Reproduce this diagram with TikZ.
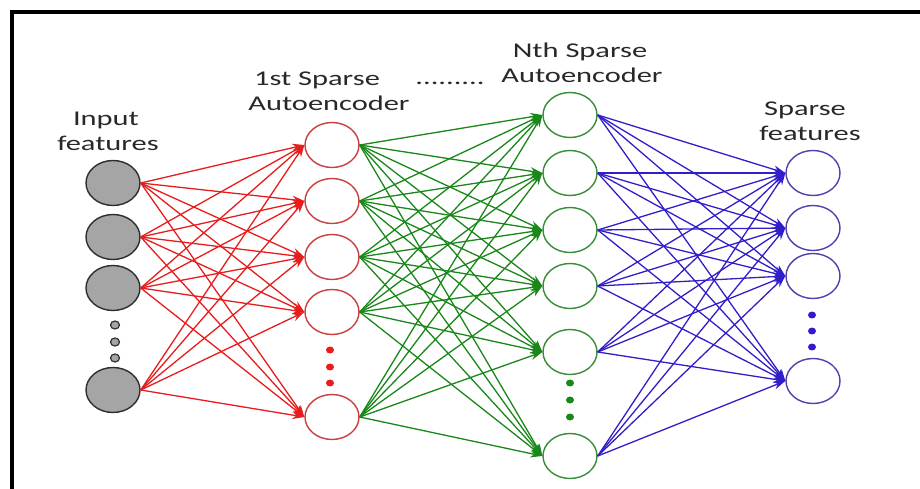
\documentclass[tikz,border=0pt]{standalone}
\usepackage{fontspec}
\newfontfamily\lblfont{Carlito}[FakeStretch=1.45]
\usetikzlibrary{arrows.meta,shapes.geometric}

\definecolor{txt}{RGB}{40,40,40}
\definecolor{inFill}{RGB}{165,165,165}
\definecolor{inLine}{RGB}{45,45,45}
\definecolor{redA}{RGB}{232,28,28}
\definecolor{redC}{RGB}{205,60,60}
\definecolor{grnA}{RGB}{25,135,25}
\definecolor{grnC}{RGB}{55,140,55}
\definecolor{bluA}{RGB}{50,30,200}
\definecolor{bluC}{RGB}{75,65,175}

\tikzset{
  unit/.style={ellipse, minimum width=54pt, minimum height=45pt, inner sep=0pt, line width=1.4pt},
  inode/.style={unit, draw=inLine, fill=inFill},
  rnode/.style={unit, draw=redC, fill=white},
  gnode/.style={unit, draw=grnC, fill=white},
  bnode/.style={unit, draw=bluC, fill=white},
  dotnode/.style={ellipse, minimum width=8pt, minimum height=7pt, inner sep=0pt},
  link/.style={line width=1.3pt, -{Stealth[length=12pt,width=8pt]}},
  lbl/.style={font=\lblfont\fontsize{21}{24}\selectfont, text=txt, inner sep=0pt},
  frame/.style={line width=4pt, black}
}

\begin{document}
\begin{tikzpicture}[x=1pt, y=-1pt]
\useasboundingbox (0,0) rectangle (920,489);
\clip (0,0) rectangle (920,489);

% outer frame (top and left edges)
\draw[frame] (12,500) -- (12,12) -- (930,12);

% layers
\foreach \n/\y in {1/183,2/237,3/288,4/390}
  \node[inode] (in\n) at (113,\y) {};
\foreach \n/\y in {1/145,2/201,3/257,4/312,5/417}
  \node[rnode] (ae\n) at (332,\y) {};
\foreach \n/\y in {1/115,2/173,3/230,4/286,5/352,6/456}
  \node[gnode] (nt\n) at (570,\y) {};
\foreach \n/\y in {1/173,2/228,3/276,4/381}
  \node[bnode] (sp\n) at (813,\y) {};

% ellipsis dots inside the layers
\foreach \n/\y in {1/325,2/342,3/358}
  \node[dotnode, minimum width=9pt, minimum height=8pt, draw=inLine, fill=inFill, line width=1.2pt] (ind\n) at (115,\y) {};
\foreach \n/\y in {1/350,2/367,3/383}
  \node[dotnode, fill=redA] (aed\n) at (330,\y) {};
\foreach \n/\y in {1/383,2/400,3/417}
  \node[dotnode, fill=grnA] (ntd\n) at (570,\y) {};
\foreach \n/\y in {1/315,2/331,3/347}
  \node[dotnode, fill=bluA] (spd\n) at (812,\y) {};

% fully connected links
\foreach \i in {1,...,4}
  \foreach \j in {1,...,5}
    \draw[link, redA] (in\i.east) -- (ae\j.west);
\foreach \i in {1,...,5}
  \foreach \j in {1,...,6}
    \draw[link, grnA] (ae\i.east) -- (nt\j.west);
\foreach \i in {1,...,6}
  \foreach \j in {1,...,4}
    \draw[link, bluA] (nt\i.east) -- (sp\j.west);

% labels
\node[lbl] (lin1) at (106,120) {Input};
\node[lbl] (lin2) at (108,143) {features};
\node[lbl] (lae1) at (317,80) {1st Sparse};
\node[lbl] (lae2) at (329,103) {Autoencoder};
\node[lbl] (ldots) at (450,83) {.........};
\node[lbl] (lnt1) at (580,52) {Nth Sparse};
\node[lbl] (lnt2) at (582,75) {Autoencoder};
\node[lbl] (lsp1) at (805,110) {Sparse};
\node[lbl] (lsp2) at (810,133) {features};
\end{tikzpicture}
\end{document}
